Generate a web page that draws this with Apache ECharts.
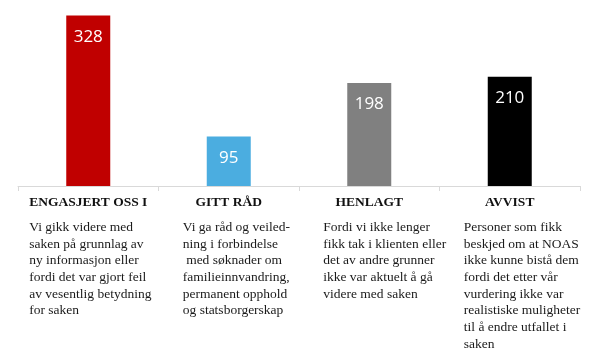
<!DOCTYPE html>
<html>
<head>
<meta charset="utf-8">
<script src="https://cdn.jsdelivr.net/npm/echarts@6/dist/echarts.min.js"></script>
<style>
html,body{margin:0;padding:0;background:#fff;}
#chart{width:602px;height:364px;}
</style>
</head>
<body>
<div id="chart"></div>
<script>
const categories = ['ENGASJERT OSS I', 'GITT RÅD', 'HENLAGT', 'AVVIST'];
const values = [328, 95, 198, 210];
const descriptions = [
  ['Vi gikk videre med', 'saken på grunnlag av', 'ny informasjon eller', 'fordi det var gjort feil', 'av vesentlig betydning', 'for saken'],
  ['Vi ga råd og veiled-', 'ning i forbindelse', ' med søknader om', 'familieinnvandring,', 'permanent opphold', 'og statsborgerskap'],
  ['Fordi vi ikke lenger', 'fikk tak i klienten eller', 'det av andre grunner', 'ikke var aktuelt å gå', 'videre med saken'],
  ['Personer som fikk', 'beskjed om at NOAS', 'ikke kunne bistå dem', 'fordi det etter vår', 'vurdering ikke var', 'realistiske muligheter', 'til å endre utfallet i', 'saken']
];
const palette = ['#C00000', '#4BADE0', '#808080', '#000000'];

const chart = echarts.init(document.getElementById('chart'), null, {renderer: 'canvas'});
chart.setOption({
  animation: false,
  backgroundColor: '#ffffff',
  grid: {left: 18, right: 22, top: 4, bottom: 178, containLabel: false},
  xAxis: {
    type: 'category',
    data: categories,
    boundaryGap: true,
    axisLine: {show: true, lineStyle: {color: '#d9d9d9', width: 1}},
    axisTick: {show: true, length: 5, lineStyle: {color: '#d9d9d9'}},
    axisLabel: {
      interval: 0,
      margin: 0,
      hideOverlap: false,
      formatter: function (value, index) {
        return '{t|' + value + '}\n' + descriptions[index].map(function (l) { return '{d|' + l + '}'; }).join('\n');
      },
      rich: {
        t: {fontFamily: 'Liberation Serif', fontWeight: 'bold', fontSize: 13.5, lineHeight: 33, align: 'center', color: '#111111'},
        d: {fontFamily: 'Liberation Serif', fontSize: 13.5, lineHeight: 16.7, align: 'left', width: 92, color: '#1a1a1a'}
      }
    }
  },
  yAxis: {
    type: 'value',
    show: false,
    min: 0,
    max: 350,
    splitLine: {show: false}
  },
  series: [{
    type: 'bar',
    data: values.map(function (v, i) { return {value: v, itemStyle: {color: palette[i]}}; }),
    barWidth: 44,
    label: {
      show: true,
      position: 'insideTop',
      distance: 13,
      color: '#ffffff',
      fontFamily: 'Open Sans',
      fontSize: 17
    }
  }]
});
</script>
</body>
</html>
